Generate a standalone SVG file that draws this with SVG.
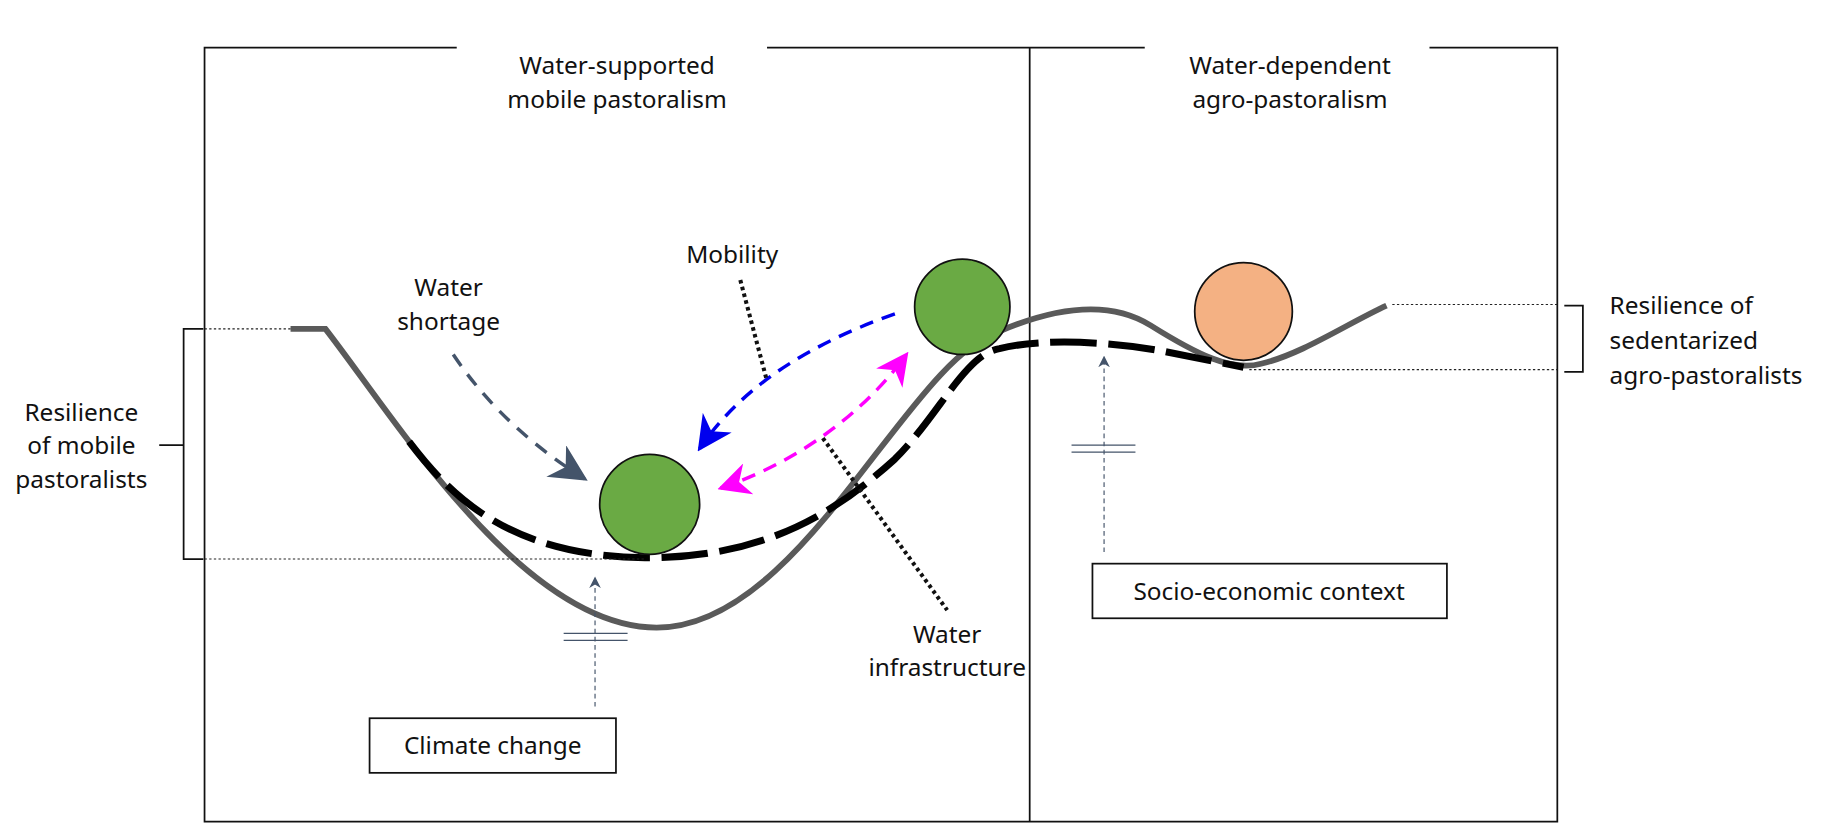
<svg xmlns="http://www.w3.org/2000/svg" width="1822" height="824" viewBox="0 0 1822 824">
<defs>
<style>
text{font-family:"Noto Sans","Open Sans","Liberation Sans",sans-serif;font-size:21px;fill:#111}
.frame{fill:none;stroke:#111;stroke-width:1.5}
.thin{fill:none;stroke:#222;stroke-width:1;stroke-dasharray:2 2}
.dot{fill:none;stroke:#111;stroke-width:3.5;stroke-dasharray:3 3}
</style>
<marker id="mb" viewBox="0 0 10 10" refX="9" refY="5" markerWidth="7" markerHeight="7" orient="auto-start-reverse" markerUnits="userSpaceOnUse"><path d="M0,0 L10,5 L0,10 L3,5 Z" fill="#0000ee"/></marker>
<marker id="mm" viewBox="0 0 10 10" refX="9" refY="5" markerWidth="28" markerHeight="28" orient="auto-start-reverse" markerUnits="userSpaceOnUse"><path d="M0,0 L10,5 L0,10 L3,5 Z" fill="#ff00ff"/></marker>
<marker id="mbl" viewBox="0 0 10 10" refX="9" refY="5" markerWidth="30" markerHeight="30" orient="auto" markerUnits="userSpaceOnUse"><path d="M0,0 L10,5 L0,10 L3,5 Z" fill="#0000ee"/></marker>
<marker id="ms" viewBox="0 0 10 10" refX="9" refY="5" markerWidth="32" markerHeight="32" orient="auto" markerUnits="userSpaceOnUse"><path d="M0,0 L10,5 L0,10 L3,5 Z" fill="#44546a"/></marker>
<marker id="mt" viewBox="0 0 10 10" refX="9" refY="5" markerWidth="10" markerHeight="10" orient="auto" markerUnits="userSpaceOnUse"><path d="M0,0 L10,5 L0,10 L3,5 Z" fill="#44546a"/></marker>
</defs>
<rect width="1822" height="824" fill="#fff"/>
<g transform="scale(1.16218)">
<g id="frames">
<path class="frame" d="M393,41 H176 V707 H886 V41 H660 M985,41 H886 M1230,41 H1340 V707 H886"/>
</g>
<g id="titles">
<text x="531" y="64" text-anchor="middle" font-size="23">Water-supported</text>
<text x="531" y="93" text-anchor="middle" font-size="23">mobile pastoralism</text>
<text x="1110" y="64" text-anchor="middle" font-size="23">Water-dependent</text>
<text x="1110" y="93" text-anchor="middle" font-size="23">agro-pastoralism</text>
</g>
<g id="landscape">
<path d="M250,283 H280 C340,360 450,540 565,540 C690,540 780,310 860,285 C900,268 950,255 990,280 C1030,305 1060,320 1085,313 C1120,305 1160,278 1193,263" fill="none" stroke="#5a5a5a" stroke-width="5"/>
<path d="M352,380 C390,430 440,478 555,480 C660,480 720,440 770,395 C810,355 830,305 860,300 C900,290 960,295 1000,302 L1070,316" fill="none" stroke="#000" stroke-width="6" stroke-dasharray="40 10"/>
</g>
<g id="resilience-left">
<path class="thin" d="M176,283 H250 M176,481 H555"/>
<path class="frame" d="M175,283 H158 V481 H175 M137,383 H158"/>
<text x="70" y="362" text-anchor="middle">Resilience</text>
<text x="70" y="391" text-anchor="middle">of mobile</text>
<text x="70" y="420" text-anchor="middle">pastoralists</text>
</g>
<g id="resilience-right">
<path class="thin" d="M1198,262 H1340 M1075,318 H1340"/>
<path class="frame" d="M1346,263 H1362 V320 H1346"/>
<text x="1385" y="270">Resilience of</text>
<text x="1385" y="300">sedentarized</text>
<text x="1385" y="330">agro-pastoralists</text>
</g>
<g id="connectors">
<path d="M770,270 C700,295 640,330 602,386" fill="none" stroke="#0000ee" stroke-width="3" stroke-dasharray="12 8" marker-end="url(#mbl)"/>
<path d="M620,420 C680,400 740,360 780,305" fill="none" stroke="#ff00ff" stroke-width="3" stroke-dasharray="12 8" marker-start="url(#mm)" marker-end="url(#mm)"/>
<path d="M390,305 C420,350 460,385 503,412" fill="none" stroke="#44546a" stroke-width="3" stroke-dasharray="12 9" marker-end="url(#ms)"/>
<path class="dot" d="M637,241 L660,328 M708,377 L815,525"/>
<path d="M512,608 V497" fill="none" stroke="#44546a" stroke-width="1" stroke-dasharray="4 3" marker-end="url(#mt)"/>
<path d="M485,545 H540 M485,551 H540" stroke="#44546a" stroke-width="1.2"/>
<path d="M950,475 V307" fill="none" stroke="#44546a" stroke-width="1" stroke-dasharray="4 3" marker-end="url(#mt)"/>
<path d="M922,383 H977 M922,389 H977" stroke="#44546a" stroke-width="1.2"/>
</g>
<g id="balls">
<circle cx="559" cy="434" r="43" fill="#6aaa44" stroke="#111" stroke-width="1.5"/>
<circle cx="828" cy="264" r="41" fill="#6aaa44" stroke="#111" stroke-width="1.5"/>
<circle cx="1070" cy="268" r="42" fill="#f4b183" stroke="#111" stroke-width="1.5"/>
</g>
<g id="labels">
<text x="386" y="255" text-anchor="middle">Water</text>
<text x="386" y="284" text-anchor="middle">shortage</text>
<text x="630" y="226" text-anchor="middle">Mobility</text>
<text x="815" y="553" text-anchor="middle">Water</text>
<text x="815" y="582" text-anchor="middle">infrastructure</text>
</g>
<g id="climate">
<rect x="318" y="618" width="212" height="47" class="frame" stroke-width="1"/>
<text x="424" y="649" text-anchor="middle">Climate change</text>
</g>
<g id="socio">
<rect x="940" y="485" width="305" height="47" class="frame" stroke-width="1"/>
<text x="1092" y="516" text-anchor="middle">Socio-economic context</text>
</g>
</g>
</svg>
